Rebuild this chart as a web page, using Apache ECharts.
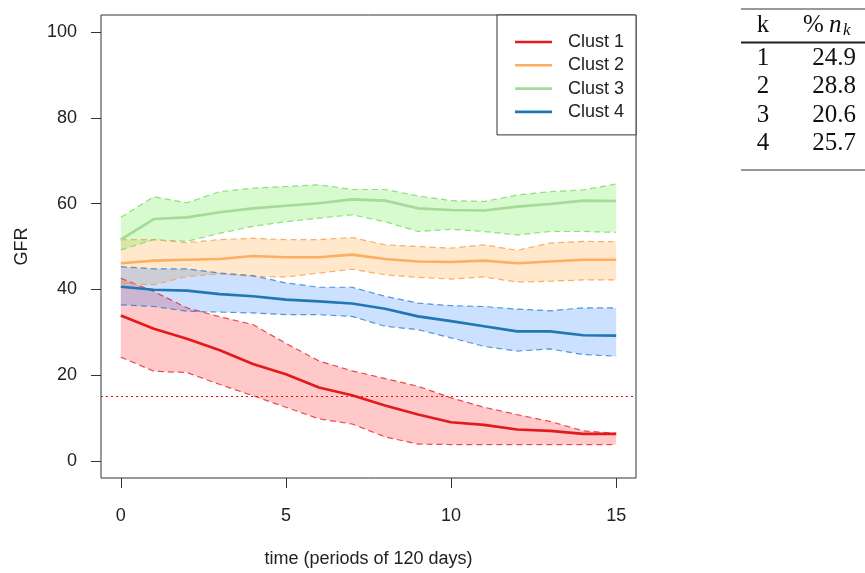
<!DOCTYPE html>
<html>
<head>
<meta charset="utf-8">
<script src="https://cdn.jsdelivr.net/npm/echarts@6/dist/echarts.min.js"></script>
<style>
html,body{margin:0;padding:0;background:#fff;}
#chart{width:865px;height:573px;}
</style>
</head>
<body>
<div id="chart"></div>
<script>
// ---- data ----
const times = [0,1,2,3,4,5,6,7,8,9,10,11,12,13,14,15];
const xTicks = [0,5,10,15];
const yTicks = [0,20,40,60,80,100];
const clusterNames = ['Clust 1','Clust 2','Clust 3','Clust 4'];

const c1Mean  = [33.9,30.8,28.5,25.8,22.6,20.2,17.1,15.3,12.9,10.8,9.0,8.4,7.3,7.0,6.3,6.3];
const c1Upper = [42.6,39.5,35.7,33.6,31.8,27.4,23.3,21.0,19.2,17.4,14.7,12.5,10.8,9.2,7.0,6.4];
const c1Lower = [24.2,20.9,20.6,17.8,15.2,12.5,9.8,8.6,5.6,3.9,3.8,3.8,3.8,3.8,3.8,3.8];

const c2Mean  = [46.1,46.7,46.9,47.1,47.8,47.5,47.5,48.1,47.1,46.5,46.4,46.7,46.1,46.5,46.9,46.9];
const c2Upper = [51.6,51.6,50.9,51.6,51.9,51.6,51.6,52.1,50.4,50.0,49.6,50.4,49.1,50.8,51.2,51.1];
const c2Lower = [41.3,41.1,43.0,43.6,43.0,42.9,43.8,44.7,43.4,42.8,42.4,42.9,41.7,41.9,42.2,42.2];

const c3Mean  = [51.6,56.4,56.8,58.0,58.9,59.5,60.1,61.0,60.7,58.9,58.5,58.4,59.3,59.9,60.7,60.6];
const c3Upper = [56.8,61.6,60.2,62.8,63.6,64.0,64.4,63.3,63.3,61.8,60.7,60.5,62.0,62.8,63.2,64.6];
const c3Lower = [49.2,51.6,51.2,53.1,54.7,55.8,56.6,57.4,55.8,53.5,54.0,53.5,52.7,53.5,53.5,53.3];

const c4Mean  = [40.6,39.9,39.7,38.9,38.4,37.6,37.2,36.7,35.5,33.7,32.6,31.4,30.2,30.2,29.3,29.2];
const c4Upper = [45.3,44.8,44.8,43.8,43.2,41.5,40.5,40.5,38.4,36.8,36.2,36.0,35.4,35.0,35.7,35.7];
const c4Lower = [36.4,36.0,34.9,34.7,34.5,34.1,34.1,33.7,31.4,30.6,28.7,26.7,25.6,26.1,24.8,24.4];

const threshold = 15;

const tableK   = ['1','2','3','4'];
const tablePct = ['24.9','28.8','20.6','25.7'];

// ---- styles ----
const meanColors = ['#E31A1C','#FDAE61','#A6D99A','#1F78B4'];
const dashColors = ['rgba(227,26,28,0.75)','rgba(253,160,80,0.85)','rgba(120,215,100,0.8)','rgba(31,120,200,0.75)'];
const fillColors = ['rgba(255,0,0,0.21)','rgba(255,140,0,0.2)','rgba(40,230,0,0.19)','rgba(0,100,255,0.2)'];

const means  = [c1Mean,c2Mean,c3Mean,c4Mean];
const uppers = [c1Upper,c2Upper,c3Upper,c4Upper];
const lowers = [c1Lower,c2Lower,c3Lower,c4Lower];

const pairs = arr => times.map((t,i)=>[t,arr[i]]);
const FONT = '"Liberation Sans", Arial, sans-serif';
const SERIF = '"Liberation Serif", "DejaVu Serif", serif';

function bandRenderer(up, lo, fill){
  return function(params, api){
    const pts = [];
    for (let i=0;i<times.length;i++) pts.push(api.coord([times[i], up[i]]));
    for (let i=times.length-1;i>=0;i--) pts.push(api.coord([times[i], lo[i]]));
    return {type:'polygon', shape:{points:pts}, style:{fill:fill, stroke:null}, silent:true};
  };
}

const series = [];
// bands
for (let k=0;k<4;k++){
  series.push({
    type:'custom', name:'band'+k, coordinateSystem:'cartesian2d',
    renderItem: bandRenderer(uppers[k], lowers[k], fillColors[k]),
    data:[[0,0]], z:1, silent:true
  });
}
// dashed bounds
for (let k=0;k<4;k++){
  [uppers[k], lowers[k]].forEach((arr,j)=>{
    series.push({
      type:'line', name:'bound'+k+'_'+j, data:pairs(arr), symbol:'none', silent:true,
      lineStyle:{color:dashColors[k], width:1.2, type:[6,4]}, z:2
    });
  });
}
// mean lines
for (let k=0;k<4;k++){
  const s = {
    type:'line', name:clusterNames[k], data:pairs(means[k]), symbol:'none',
    lineStyle:{color:meanColors[k], width:2.6}, itemStyle:{color:meanColors[k]}, z:3
  };
  if (k===0){
    s.markLine = {
      silent:true, symbol:['none','none'], label:{show:false},
      lineStyle:{color:'#FF0000', type:[2,3], width:1.2, opacity:1},
      itemStyle:{color:'#FF0000'},
      data:[{yAxis:threshold, lineStyle:{color:'#FF0000'}}]
    };
  }
  series.push(s);
}

// table graphics
const graphics = [];
const tL = 741, tR = 865;
graphics.push({type:'line', shape:{x1:tL,y1:9,x2:tR,y2:9}, style:{stroke:'#333', lineWidth:1}});
graphics.push({type:'line', shape:{x1:tL,y1:42.5,x2:tR,y2:42.5}, style:{stroke:'#222', lineWidth:2}});
graphics.push({type:'line', shape:{x1:tL,y1:170,x2:tR,y2:170}, style:{stroke:'#333', lineWidth:1}});
graphics.push({type:'text', x:763, y:25, style:{text:'k', font:'25px '+SERIF, fill:'#111', align:'center', verticalAlign:'middle'}});
graphics.push({type:'text', x:803, y:25, style:{text:'%', font:'25px '+SERIF, fill:'#111', align:'left', verticalAlign:'middle'}});
graphics.push({type:'text', x:829, y:25, style:{text:'n', font:'italic 25px '+SERIF, fill:'#111', align:'left', verticalAlign:'middle'}});
graphics.push({type:'text', x:843, y:31, style:{text:'k', font:'italic 17px '+SERIF, fill:'#111', align:'left', verticalAlign:'middle'}});
for (let i=0;i<tableK.length;i++){
  const y = 58 + i*28.5;
  graphics.push({type:'text', x:763, y:y, style:{text:tableK[i], font:'25px '+SERIF, fill:'#111', align:'center', verticalAlign:'middle'}});
  graphics.push({type:'text', x:856, y:y, style:{text:tablePct[i], font:'25px '+SERIF, fill:'#111', align:'right', verticalAlign:'middle'}});
}

const chart = echarts.init(document.getElementById('chart'), null, {renderer:'canvas'});
chart.setOption({
  animation:false,
  backgroundColor:'#fff',
  textStyle:{fontFamily:FONT},
  grid:{left:101, top:15, right:229, bottom:93, show:true, borderColor:'#333', borderWidth:1, backgroundColor:'transparent'},
  xAxis:{
    type:'value', min:-0.6, max:15.6,
    name:'time (periods of 120 days)', nameLocation:'middle', nameGap:72,
    nameTextStyle:{fontSize:18, color:'#222', fontFamily:FONT},
    axisLine:{show:false, onZero:false},
    splitLine:{show:false},
    axisTick:{show:true, inside:false, length:10, lineStyle:{color:'#333', width:1}, customValues:xTicks},
    axisLabel:{show:true, margin:29, fontSize:18, color:'#222', fontFamily:FONT, customValues:xTicks, formatter:v=>String(v)}
  },
  yAxis:{
    type:'value', min:-4, max:104,
    name:'GFR', nameLocation:'middle', nameGap:70,
    nameTextStyle:{fontSize:18, color:'#222', fontFamily:FONT},
    axisLine:{show:false, onZero:false},
    splitLine:{show:false},
    axisTick:{show:true, inside:false, length:10, lineStyle:{color:'#333', width:1}, customValues:yTicks},
    axisLabel:{show:true, margin:24, fontSize:18, color:'#222', fontFamily:FONT, customValues:yTicks, formatter:v=>String(v)}
  },
  legend:{
    data:clusterNames, orient:'vertical', left:497, top:15,
    backgroundColor:'#fff', borderColor:'#333', borderWidth:1,
    icon:'rect',
    padding:[18,12,14,18], itemGap:5.3, itemWidth:37, itemHeight:2.6,
    selectedMode:false,
    textStyle:{fontSize:18, lineHeight:18, color:'#222', fontFamily:FONT, padding:[0,0,0,11]}
  },
  series:series,
  graphic:graphics
});
</script>
</body>
</html>
